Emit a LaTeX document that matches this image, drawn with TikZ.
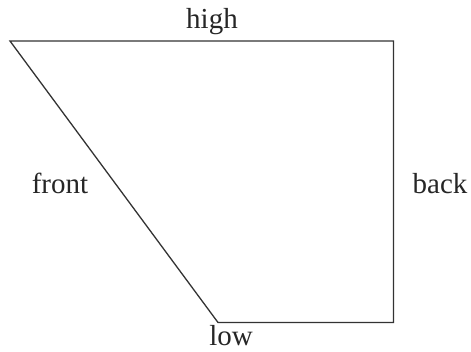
\documentclass[tikz,border=0pt]{standalone}
\usepackage{fontspec}
\setmainfont{Liberation Serif}
\begin{document}
\begin{tikzpicture}[x=1pt,y=-1pt,
  lbl/.style={inner sep=0pt,anchor=base,font=\fontsize{29}{35}\selectfont,text=black!85},
  edge/.style={draw=black!80,line width=1.3pt,line join=miter}]
\useasboundingbox (0,0) rectangle (471,351);
\coordinate (tl) at (10,41);
\coordinate (tr) at (393.5,41);
\coordinate (br) at (393.5,322.5);
\coordinate (bl) at (218,322.5);
\draw[edge] (tl) -- (tr) -- (br) -- (bl) -- cycle;
\node[lbl] (high) at (212,28) {high};
\node[lbl] (front) at (60,193) {front};
\node[lbl] (back) at (440,193) {back};
\node[lbl] (low) at (231,345.5) {low};
\end{tikzpicture}
\end{document}
